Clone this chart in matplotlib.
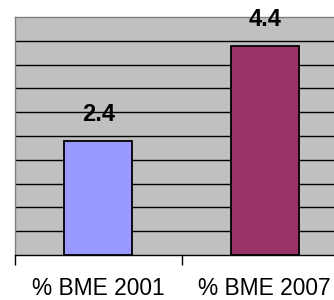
import matplotlib
matplotlib.use("Agg")
import matplotlib.pyplot as plt
import numpy as np

categories = ["% BME 2001", "% BME 2007"]
values = [2.4, 4.4]
colors = ["#9999FF", "#993366"]
value_labels = ["2.4", "4.4"]

plt.rcParams['font.family'] = ['Liberation Sans', 'DejaVu Sans']

fig = plt.figure(figsize=(3.34, 3.0), dpi=100)
ax = fig.add_axes([15/334, 45/300, 333/334, 238/300])
ax.set_facecolor("#C0C0C0")

x = np.arange(len(categories))
bars = ax.bar(x, values, width=0.41, color=colors, edgecolor="black", linewidth=1.3, zorder=3)

ax.set_xlim(-0.5, 1.5)
ax.set_ylim(0, 5)
ax.set_yticks(np.arange(0.5, 5.0, 0.5))
ax.yaxis.grid(True, color="black", linewidth=1.0, zorder=1)
ax.tick_params(axis="y", length=0, labelleft=False)

ax.set_xticks([-0.5, 0.5, 1.5])
ax.set_xticklabels([])
ax.tick_params(axis="x", which="major", length=7, width=1, color="black")
ax.set_xticks(x, minor=True)
ax.set_xticklabels(categories, minor=True, fontsize=16.4)
ax.tick_params(axis="x", which="minor", length=0, pad=16)

for spine in ["left", "top", "right"]:
    ax.spines[spine].set_color("#808080")
    ax.spines[spine].set_linewidth(1.0)
ax.spines["bottom"].set_color("black")
ax.spines["bottom"].set_linewidth(1.0)

for xi, v, lab in zip(x, values, value_labels):
    ax.annotate(lab, (xi, v), xytext=(0, 14), textcoords="offset points",
                ha="center", va="baseline", fontsize=17, fontweight="bold")

fig.savefig("out.png", dpi=100)
